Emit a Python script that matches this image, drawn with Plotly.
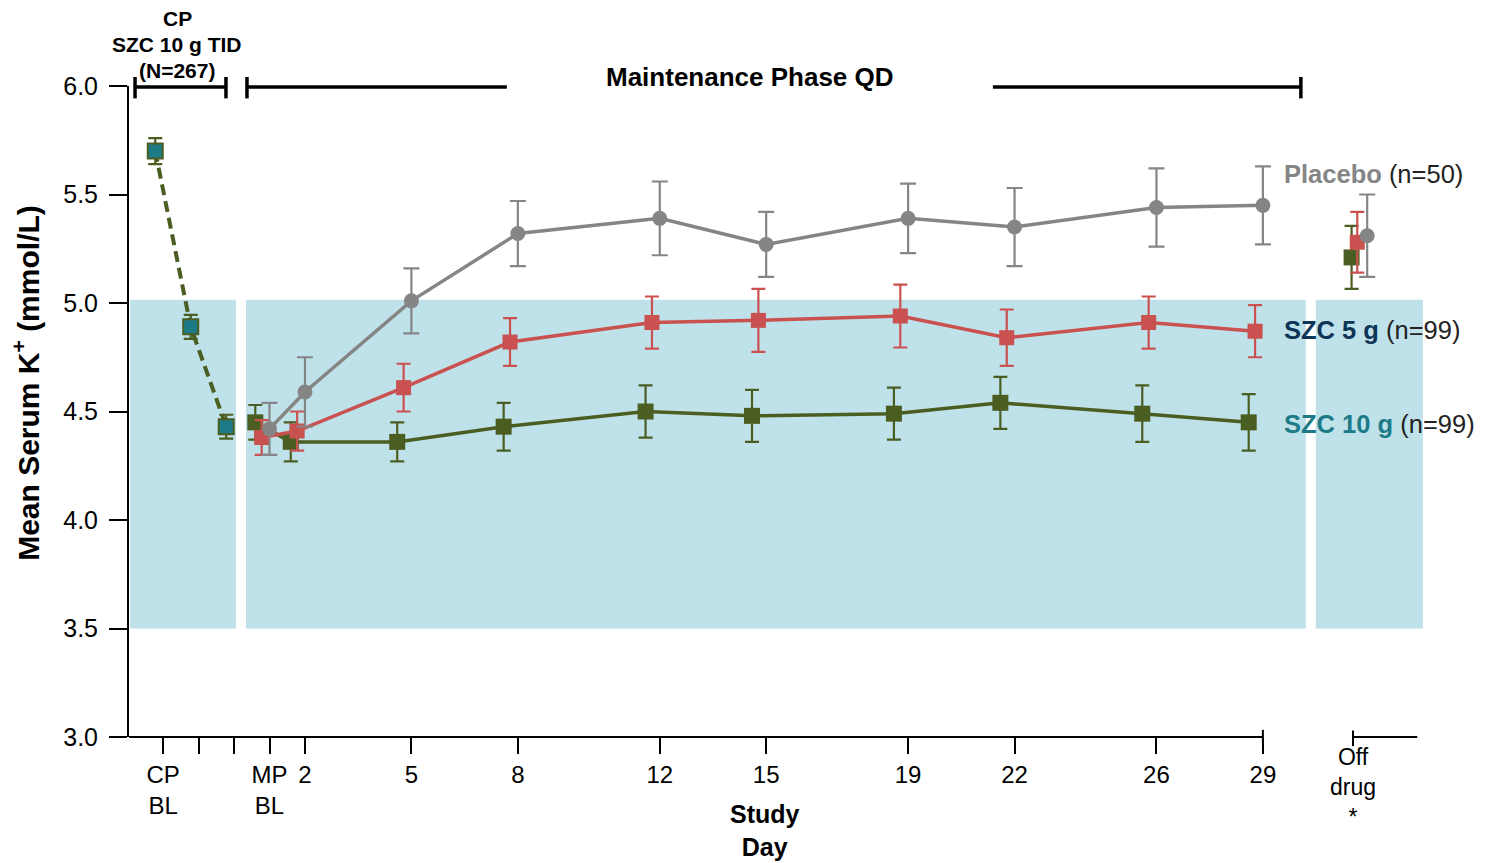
import plotly.graph_objects as go

# ---------------- data ----------------
mp_days = [1, 2, 5, 8, 12, 15, 19, 22, 26, 29]
cp_days = [-2, -1, 0]
off_drug_day = 31.54

tick_vals = [-2, 1, 2, 5, 8, 12, 15, 19, 22, 26, 29]
tick_text = ["CP<br>BL", "MP<br>BL", "2", "5", "8", "12", "15", "19", "22", "26", "29"]
unlabeled_ticks = [-1, 0]

cp_mean = [5.70, 4.89, 4.43]
cp_err = [0.06, 0.055, 0.055]

placebo = [4.42, 4.59, 5.01, 5.32, 5.39, 5.27, 5.39, 5.35, 5.44, 5.45]
placebo_err = [0.12, 0.16, 0.15, 0.15, 0.17, 0.15, 0.16, 0.18, 0.18, 0.18]
placebo_off, placebo_off_err = 5.31, 0.19

szc5 = [4.38, 4.41, 4.61, 4.82, 4.91, 4.92, 4.94, 4.84, 4.91, 4.87]
szc5_err = [0.08, 0.09, 0.11, 0.11, 0.12, 0.145, 0.145, 0.13, 0.12, 0.12]
szc5_off, szc5_off_err = 5.28, 0.14

szc10 = [4.45, 4.36, 4.36, 4.43, 4.50, 4.48, 4.49, 4.54, 4.49, 4.45]
szc10_err = [0.08, 0.09, 0.09, 0.11, 0.12, 0.12, 0.12, 0.12, 0.13, 0.13]
szc10_off, szc10_off_err = 5.21, 0.145

normal_low, normal_high = 3.5, 5.015

# ---------------- style ----------------
OLIVE = "#4b5e22"
RED = "#c9514f"
GRAY = "#858585"
TEAL = "#1c7b87"
NAVY = "#0d3556"
BAND = "#bfe1ea"
FONT = "Liberation Sans, Arial, sans-serif"

off_cp, off_10, off_5, off_pl = -0.22, -0.4, -0.22, 0.0
offd_10, offd_5, offd_pl = -0.04, 0.12, 0.4

X_RANGE = [-2.96, 34.02]
Y_RANGE = [3.0, 6.0]

fig = go.Figure()


def shifted(xs, d):
    return [x + d for x in xs]


def err(arr, color, w=7):
    return dict(type="data", array=arr, visible=True, color=color, thickness=2.2, width=w)


# CP phase
fig.add_trace(go.Scatter(
    x=shifted(cp_days, off_cp), y=cp_mean, mode="lines+markers",
    line=dict(color=OLIVE, width=4, dash="11px,6px"),
    marker=dict(symbol="square", size=15, color=TEAL, line=dict(color=OLIVE, width=2)),
    error_y=err(cp_err, OLIVE), showlegend=False))

# SZC 10 g
fig.add_trace(go.Scatter(
    x=shifted(mp_days, off_10), y=szc10, mode="lines+markers",
    line=dict(color=OLIVE, width=3.5),
    marker=dict(symbol="square", size=16, color=OLIVE),
    error_y=err(szc10_err, OLIVE), showlegend=False))
fig.add_trace(go.Scatter(
    x=[off_drug_day + offd_10], y=[szc10_off], mode="markers",
    marker=dict(symbol="square", size=16, color=OLIVE),
    error_y=err([szc10_off_err], OLIVE), showlegend=False))

# SZC 5 g
fig.add_trace(go.Scatter(
    x=shifted(mp_days, off_5), y=szc5, mode="lines+markers",
    line=dict(color=RED, width=3.5),
    marker=dict(symbol="square", size=15, color=RED),
    error_y=err(szc5_err, RED), showlegend=False))
fig.add_trace(go.Scatter(
    x=[off_drug_day + offd_5], y=[szc5_off], mode="markers",
    marker=dict(symbol="square", size=15, color=RED),
    error_y=err([szc5_off_err], RED), showlegend=False))

# Placebo
fig.add_trace(go.Scatter(
    x=shifted(mp_days, off_pl), y=placebo, mode="lines+markers",
    line=dict(color=GRAY, width=3.5),
    marker=dict(symbol="circle", size=15, color=GRAY),
    error_y=err(placebo_err, GRAY, 8), showlegend=False))
fig.add_trace(go.Scatter(
    x=[off_drug_day + offd_pl], y=[placebo_off], mode="markers",
    marker=dict(symbol="circle", size=15, color=GRAY),
    error_y=err([placebo_off_err], GRAY, 8), showlegend=False))

# ---------------- shapes ----------------
shapes = []
# normal range band segments
for x0, x1 in [(-2.93, 0.055), (0.337, 30.21), (30.49, 33.51)]:
    shapes.append(dict(type="rect", xref="x", yref="y", x0=x0, x1=x1, y0=normal_low, y1=normal_high,
                       fillcolor=BAND, line=dict(width=0), layer="below"))

BLACK = dict(color="black", width=2)
# x axis line (broken) + end ticks
shapes.append(dict(type="line", xref="x", yref="paper", x0=X_RANGE[0], x1=29, y0=0, y1=0, line=BLACK))
shapes.append(dict(type="line", xref="x", yref="paper", x0=29, x1=29, y0=0.011, y1=-0.012, line=BLACK))
shapes.append(dict(type="line", xref="x", yref="paper", x0=off_drug_day, x1=33.35, y0=0, y1=0, line=BLACK))
shapes.append(dict(type="line", xref="x", yref="paper", x0=off_drug_day, x1=off_drug_day, y0=0.01, y1=-0.014, line=BLACK))

# header brackets
HB = dict(color="black", width=3.5)
hy, ht, hb = 0.9985, 1.0138, 0.981
shapes.append(dict(type="line", xref="x", yref="paper", x0=-2.79, x1=-0.227, y0=hy, y1=hy, line=HB))
for xv in (-2.79, -0.227, 0.365, 30.07):
    shapes.append(dict(type="line", xref="x", yref="paper", x0=xv, x1=xv, y0=hb, y1=ht, line=HB))
shapes.append(dict(type="line", xref="x", yref="paper", x0=0.365, x1=7.69, y0=hy, y1=hy, line=HB))
shapes.append(dict(type="line", xref="x", yref="paper", x0=21.39, x1=30.07, y0=hy, y1=hy, line=HB))

# ---------------- annotations ----------------
ann = []
for txt, yv in [("<b>CP</b>", 1.103), ("<b>SZC 10 g TID</b>", 1.0645), ("<b>(N=267)</b>", 1.0245)]:
    ann.append(dict(text=txt, x=0.0366, y=yv, xref="paper", yref="paper", showarrow=False,
                    xanchor="center", yanchor="middle", font=dict(size=21, color="black", family=FONT)))
ann.append(dict(text="<b>Maintenance Phase QD</b>", x=0.4733, y=1.0138, xref="paper", yref="paper",
                showarrow=False, xanchor="center", yanchor="middle",
                font=dict(size=26, color="black", family=FONT)))
legend_items = [
    ("Placebo", GRAY, "(n=50)", 0.865),
    ("SZC 5 g", NAVY, "(n=99)", 0.625),
    ("SZC 10 g", TEAL, "(n=99)", 0.481),
]
for name, col, n, yv in legend_items:
    ann.append(dict(text=f"<span style='color:{col}'><b>{name}</b></span> {n}", x=0.8785, y=yv,
                    xref="paper", yref="paper", showarrow=False, xanchor="left", yanchor="middle",
                    font=dict(size=25.5, color="#222222", family=FONT)))
ann.append(dict(text="<b>Mean Serum K<sup>+</sup> (mmol/L)</b>", x=-0.0785, y=0.544, xref="paper",
                yref="paper", showarrow=False, textangle=-90, xanchor="center", yanchor="middle",
                font=dict(size=30, color="black", family=FONT)))
ann.append(dict(text="<b>Study<br>Day</b>", x=0.485, y=-0.144, xref="paper", yref="paper",
                showarrow=False, xanchor="center", yanchor="middle",
                font=dict(size=25, color="black", family=FONT)))
ann.append(dict(text="Off<br>drug<br>*", x=off_drug_day, y=-0.077, xref="x", yref="paper",
                showarrow=False, xanchor="center", yanchor="middle",
                font=dict(size=23, color="black", family=FONT)))

fig.update_layout(
    width=1487, height=863,
    margin=dict(l=121, r=54, t=78, b=134),
    paper_bgcolor="white", plot_bgcolor="white",
    showlegend=False,
    shapes=shapes, annotations=ann,
    font=dict(family=FONT, color="black"),
    xaxis=dict(range=X_RANGE, tickmode="array", tickvals=tick_vals, ticktext=tick_text,
               showline=False, showgrid=False, zeroline=False,
               ticks="outside", ticklen=16, tickwidth=2, tickcolor="black",
               minor=dict(tickmode="array", tickvals=unlabeled_ticks, ticks="outside",
                          ticklen=16, tickwidth=2, tickcolor="black", showgrid=False),
               tickfont=dict(size=24, family=FONT, color="black")),
    yaxis=dict(range=Y_RANGE, tickmode="array", tickvals=[3.0, 3.5, 4.0, 4.5, 5.0, 5.5, 6.0],
               ticktext=["3.0", "3.5", "4.0", "4.5", "5.0", "5.5", "6.0"],
               showline=True, linecolor="black", linewidth=2, showgrid=False, zeroline=False,
               ticks="outside", ticklen=18, tickwidth=2, tickcolor="black",
               ticklabelstandoff=6,
               tickfont=dict(size=25, family=FONT, color="black")),
)

fig.write_html("out.html")
